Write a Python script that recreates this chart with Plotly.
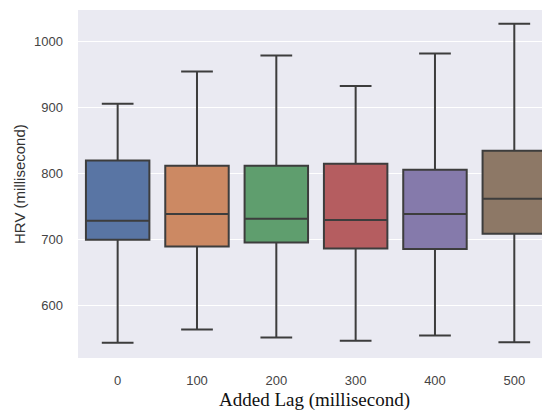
import plotly.graph_objects as go

categories = ["0", "100", "200", "300", "400", "500"]
lower_whisker = [543, 563, 551, 546, 554, 544]
q1 = [699, 689, 695, 686, 685, 708]
median = [728, 738, 731, 729, 738, 761]
q3 = [819, 811, 811, 814, 805, 834]
upper_whisker = [905, 954, 978, 932, 981, 1026]
colors = ["#5975a4", "#cc8963", "#5f9e6e", "#b55d60", "#857aab", "#8d7866"]

fig = go.Figure()
for i, c in enumerate(categories):
    fig.add_trace(go.Box(
        x=[c],
        q1=[q1[i]], median=[median[i]], q3=[q3[i]],
        lowerfence=[lower_whisker[i]], upperfence=[upper_whisker[i]],
        fillcolor=colors[i],
        line=dict(color="#3d3d3d", width=2),
        width=0.8,
        whiskerwidth=0.5,
        boxpoints=False,
        showlegend=False,
        hoverinfo="skip",
    ))

fig.update_layout(
    width=542, height=405,
    margin=dict(l=70, r=0, t=2, b=55),
    paper_bgcolor="white",
    plot_bgcolor="#EAEAF2",
    font=dict(family="Liberation Sans, Arial, sans-serif", size=13, color="#444444"),
    xaxis=dict(
        type="category",
        categoryorder="array", categoryarray=categories,
        range=[-0.5, 5.45],
        showgrid=False, zeroline=False, automargin=False,
        ticks="", ticklabelstandoff=13,
    ),
    yaxis=dict(
        range=[520, 1047],
        tickvals=[600, 700, 800, 900, 1000],
        showgrid=True, gridcolor="white", gridwidth=1.2,
        zeroline=False, automargin=False, ticks="", ticklabelstandoff=14,
    ),
    annotations=[
        dict(text="Added Lag (millisecond)", xref="paper", yref="paper",
             x=0.5, y=0, yshift=-42, xanchor="center", yanchor="middle", showarrow=False,
             font=dict(family="Liberation Serif, Times New Roman, serif", size=19, color="#111111")),
        dict(text="HRV (millisecond)", xref="paper", yref="paper",
             x=0, y=0.5, xshift=-59, xanchor="center", yanchor="middle", showarrow=False,
             textangle=-90, font=dict(size=15, color="#333333")),
    ],
)

fig.write_html("out.html")
